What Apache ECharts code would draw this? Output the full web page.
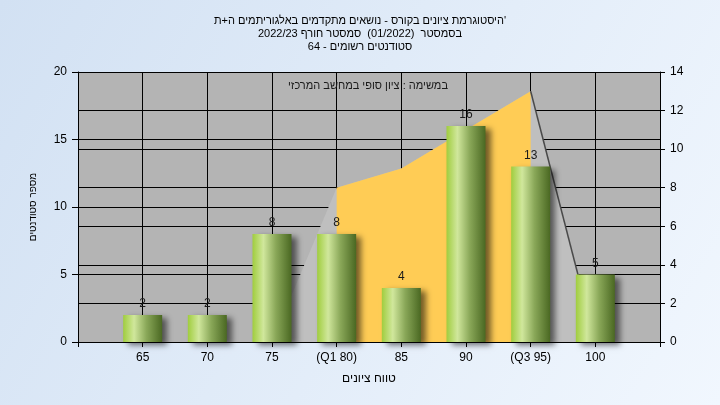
<!DOCTYPE html>
<html>
<head>
<meta charset="utf-8">
<script src="https://cdn.jsdelivr.net/npm/echarts@6/dist/echarts.min.js"></script>
<style>
html,body{margin:0;padding:0;}
#chart{width:720px;height:405px;}
</style>
</head>
<body>
<div id="chart"></div>
<script>
// ---- data ----
const titleLines = [
  "\u200F'היסטוגרמת ציונים בקורס - נושאים מתקדמים באלגוריתמים ה+ת",
  "בסמסטר  (01/2022)  סמסטר חורף 2022/23",
  "סטודנטים רשומים - 64"
];
const noteText = "במשימה : ציון סופי במחשב המרכזי";
const yAxisTitle = "מספר סטודנטים";
const xAxisTitle = "טווח ציונים";

const grades = [65, 70, 75, 80, 85, 90, 95, 100];
const tickLabels = ["65", "70", "75", "(Q1 80)", "85", "90", "(Q3 95)", "100"];
const studentCounts = [2, 2, 8, 8, 4, 16, 13, 5];

const boxGrades = [80, 85, 90, 95];
const boxValues = [8, 9, 11, 13];

const outerGrades = [75, 80, 85, 90, 95, 100];
const outerValues = [0, 8, 9, 11, 13, 0];

const tailGrades = [95, 100];
const tailValues = [13, 0];

// ---- chart ----
const FONT = "'Liberation Sans','DejaVu Sans',Arial,sans-serif";
const chart = echarts.init(document.getElementById('chart'), null, {renderer: 'canvas'});
const pairs = (xs, ys) => xs.map((x, i) => [x, ys[i]]);

const option = {
  animation: false,
  backgroundColor: new echarts.graphic.LinearGradient(0, 0, 1, 1, [
    {offset: 0, color: '#d2e1f3'},
    {offset: 1, color: '#f1f7fe'}
  ]),
  textStyle: {fontFamily: FONT},
  title: {
    text: titleLines.join('\n'),
    left: 'center',
    top: 9,
    textStyle: {fontSize: 11, fontWeight: 'normal', color: '#000', lineHeight: 13, fontFamily: FONT}
  },
  graphic: [{
    type: 'text',
    z: 100,
    style: {text: noteText, x: 368, y: 86, textAlign: 'center', textVerticalAlign: 'middle',
            fill: '#1a1a1a', font: '11px ' + FONT}
  }],
  grid: {left: 78, right: 60, top: 72, bottom: 63, show: true, backgroundColor: '#b4b4b4', borderWidth: 0},
  xAxis: {
    type: 'value',
    min: 60, max: 105, interval: 5,
    name: xAxisTitle,
    nameLocation: 'middle',
    nameGap: 31,
    nameTextStyle: {fontSize: 12, color: '#000', fontFamily: FONT},
    axisLine: {show: true, lineStyle: {color: '#000', width: 1}},
    axisTick: {show: true, length: 5, lineStyle: {color: '#000'}},
    splitLine: {show: true, lineStyle: {color: '#000', width: 1}},
    axisLabel: {
      fontSize: 12, color: '#000', margin: 10, fontFamily: FONT,
      formatter: v => { const i = grades.indexOf(v); return i >= 0 ? tickLabels[i] : ''; }
    }
  },
  yAxis: [{
    type: 'value', min: 0, max: 20, interval: 5,
    position: 'left',
    name: yAxisTitle,
    nameLocation: 'middle',
    nameRotate: 90,
    nameGap: 40,
    nameTextStyle: {fontSize: 10, color: '#000', fontFamily: FONT},
    axisLine: {show: true, lineStyle: {color: '#000'}},
    axisTick: {show: true, length: 6, lineStyle: {color: '#000'}},
    splitLine: {show: true, lineStyle: {color: '#000', width: 1}},
    axisLabel: {fontSize: 12, color: '#000', margin: 11, fontFamily: FONT}
  }, {
    type: 'value', min: 0, max: 14, interval: 2,
    position: 'right',
    axisLine: {show: true, lineStyle: {color: '#000'}},
    axisTick: {show: true, length: 5, lineStyle: {color: '#000'}},
    splitLine: {show: true, lineStyle: {color: '#000', width: 1}},
    axisLabel: {fontSize: 12, color: '#000', margin: 10, fontFamily: FONT}
  }],
  series: [{
    type: 'line',
    yAxisIndex: 1,
    data: pairs(outerGrades, outerValues),
    symbol: 'none',
    lineStyle: {width: 0},
    areaStyle: {color: '#bfbfbf', opacity: 1},
    z: 1
  }, {
    type: 'line',
    yAxisIndex: 1,
    data: pairs(boxGrades, boxValues),
    symbol: 'none',
    lineStyle: {width: 0},
    areaStyle: {color: '#ffcc55', opacity: 1},
    z: 2
  }, {
    type: 'line',
    yAxisIndex: 1,
    data: pairs(tailGrades, tailValues),
    symbol: 'none',
    lineStyle: {width: 1.5, color: '#4a4a4a'},
    z: 3
  }, {
    type: 'bar',
    yAxisIndex: 0,
    data: pairs(grades, studentCounts),
    barWidth: 39,
    z: 4,
    itemStyle: {
      color: new echarts.graphic.LinearGradient(0, 0, 1, 0, [
        {offset: 0, color: '#a0cd3e'},
        {offset: 0.28, color: '#d0e79c'},
        {offset: 0.6, color: '#89a758'},
        {offset: 1, color: '#4a6822'}
      ]),
      shadowColor: 'rgba(0,0,0,0.55)',
      shadowBlur: 6,
      shadowOffsetX: 5,
      shadowOffsetY: 3
    },
    label: {
      show: true,
      position: 'top',
      distance: 5,
      fontSize: 12,
      color: '#1a1a1a',
      fontFamily: FONT,
      formatter: p => String(p.value[1])
    }
  }]
};
chart.setOption(option);
</script>
</body>
</html>
